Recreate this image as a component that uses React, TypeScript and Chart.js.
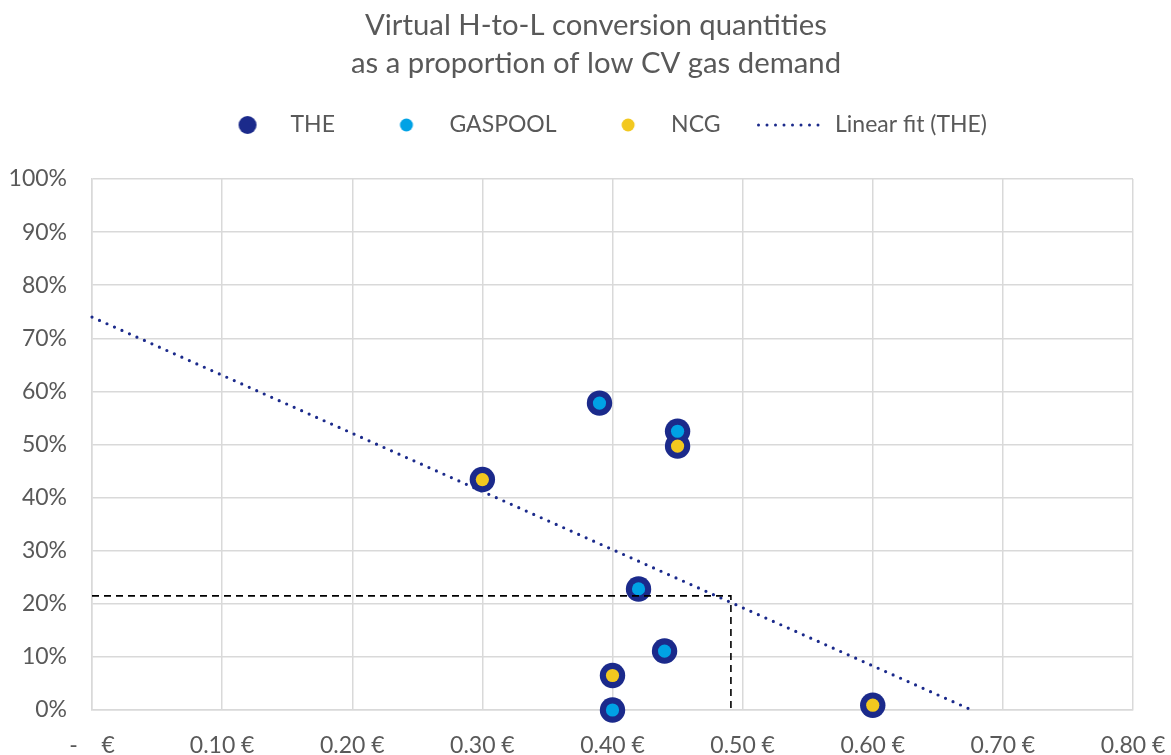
import React, { useEffect, useRef } from 'react';
import { Chart, registerables } from 'chart.js';

Chart.register(...registerables);

// ---- Data ----
const seriesNames = ['THE', 'GASPOOL', 'NCG', 'Linear fit (THE)'];
const theX = [0.30, 0.39, 0.40, 0.40, 0.42, 0.44, 0.45, 0.45, 0.60];
const theY = [43.4, 57.8, 6.5, 0.0, 22.8, 11.1, 52.5, 49.7, 0.9];
const gaspoolX = [0.39, 0.40, 0.42, 0.44, 0.45];
const gaspoolY = [57.8, 0.0, 22.8, 11.1, 52.5];
const ncgX = [0.30, 0.40, 0.45, 0.60];
const ncgY = [43.4, 6.5, 49.7, 0.9];
const fitX = [0.0, 0.676];
const fitY = [74.0, 0.0];
const refX = [0.0, 0.491, 0.491];
const refY = [21.5, 21.5, 0.0];
const xTickLabels = ['-    €', '0.10 €', '0.20 €', '0.30 €', '0.40 €', '0.50 €', '0.60 €', '0.70 €', '0.80 €'];
const yTickLabels = ['0%', '10%', '20%', '30%', '40%', '50%', '60%', '70%', '80%', '90%', '100%'];
const titleLines = ['Virtual H-to-L conversion quantities', 'as a proportion of low CV gas demand'];

// ---- Style ----
const NAVY = '#1b2a8b';
const LIGHTBLUE = '#00a2e5';
const YELLOW = '#f2c81f';
const TEXT = '#595959';
const GRID = '#d9d9d9';
const FONT = "Lato, 'Open Sans', sans-serif";

const zip = (xs: number[], ys: number[]) => xs.map((x, i) => ({ x, y: ys[i] }));

function makeSymbol(kind: 'dot' | 'line', color: string, r: number): HTMLCanvasElement {
  const c = document.createElement('canvas');
  c.width = 70;
  c.height = 24;
  const ctx = c.getContext('2d')!;
  if (kind === 'dot') {
    ctx.fillStyle = color;
    ctx.beginPath();
    ctx.arc(35, 12, r, 0, Math.PI * 2);
    ctx.fill();
  } else {
    ctx.strokeStyle = color;
    ctx.lineWidth = 3;
    ctx.lineCap = 'round';
    ctx.setLineDash([0, 8.5]);
    ctx.beginPath();
    ctx.moveTo(1.5, 12);
    ctx.lineTo(69.5, 12);
    ctx.stroke();
  }
  return c;
}

// Adds space below the legend and nudges the title / legend horizontally
const layoutTweaks = {
  id: 'layoutTweaks',
  beforeLayout(chart: any) {
    const lg: any = chart.legend;
    if (lg && !lg.__gapPatched) {
      const orig = lg.fit.bind(lg);
      lg.fit = function () {
        orig();
        this.height += 32.5;
      };
      lg.__gapPatched = true;
    }
  },
  afterLayout(chart: any) {
    const t = chart.titleBlock;
    if (t) {
      t.left += 29.5;
      t.right += 29.5;
    }
    const l = chart.legend;
    if (l) {
      l.left += 35;
      l.right += 35;
    }
  },
};

export default function App() {
  const ref = useRef<HTMLCanvasElement | null>(null);

  useEffect(() => {
    if (!ref.current) return;
    const symbols = [
      makeSymbol('dot', NAVY, 9),
      makeSymbol('dot', LIGHTBLUE, 6.5),
      makeSymbol('dot', YELLOW, 6.5),
      makeSymbol('line', NAVY, 0),
    ];

    const chart = new Chart(ref.current, {
      type: 'scatter',
      data: {
        datasets: [
          {
            label: seriesNames[0],
            data: zip(theX, theY),
            backgroundColor: NAVY,
            borderColor: NAVY,
            pointRadius: 12.7,
            pointHoverRadius: 12.7,
            pointBorderWidth: 0,
            order: 3,
            clip: false,
          },
          {
            label: seriesNames[1],
            data: zip(gaspoolX, gaspoolY),
            backgroundColor: LIGHTBLUE,
            borderColor: LIGHTBLUE,
            pointRadius: 6.6,
            pointHoverRadius: 6.6,
            pointBorderWidth: 0,
            order: 1,
            clip: false,
          },
          {
            label: seriesNames[2],
            data: zip(ncgX, ncgY),
            backgroundColor: YELLOW,
            borderColor: YELLOW,
            pointRadius: 6.6,
            pointHoverRadius: 6.6,
            pointBorderWidth: 0,
            order: 1,
            clip: false,
          },
          {
            label: seriesNames[3],
            data: zip(fitX, fitY),
            showLine: true,
            borderColor: NAVY,
            backgroundColor: NAVY,
            borderWidth: 3.2,
            borderDash: [0, 8.2],
            borderCapStyle: 'round',
            pointRadius: 0,
            pointHoverRadius: 0,
            order: 4,
            clip: false,
          },
          {
            label: 'reference',
            data: zip(refX, refY),
            showLine: true,
            borderColor: '#000000',
            backgroundColor: '#000000',
            borderWidth: 1.6,
            borderDash: [7, 5],
            pointRadius: 0,
            pointHoverRadius: 0,
            order: 0,
            clip: false,
          },
        ],
      },
      options: {
        animation: false,
        responsive: false,
        events: [],
        layout: { padding: { left: 0, right: 38, top: 0, bottom: 0 } },
        plugins: {
          tooltip: { enabled: false },
          title: {
            display: true,
            text: titleLines,
            color: TEXT,
            font: { family: FONT, size: 29.3, weight: 'normal', lineHeight: '38px' },
            padding: { top: 7, bottom: -9.5 },
          },
          legend: {
            display: true,
            position: 'top',
            labels: {
              usePointStyle: true,
              pointStyleWidth: 63,
              padding: 40,
              color: TEXT,
              font: { family: FONT, size: 23 },
              sort: (a: any, b: any) => a.datasetIndex - b.datasetIndex,
              generateLabels: (c: any) => {
                const items = (Chart.defaults.plugins.legend.labels as any).generateLabels(c);
                return items
                  .filter((it: any) => it.datasetIndex < 4)
                  .map((it: any) => ({ ...it, pointStyle: symbols[it.datasetIndex], lineWidth: 0 }));
              },
            },
          },
        },
        scales: {
          x: {
            type: 'linear',
            min: 0,
            max: 0.8,
            afterFit: (s: any) => {
              s.height = 45;
            },
            grid: { color: GRID, lineWidth: 1.5, drawTicks: true, tickLength: 22, tickColor: 'rgba(0,0,0,0)' },
            border: { color: GRID, width: 1.5 },
            ticks: {
              stepSize: 0.1,
              autoSkip: false,
              maxRotation: 0,
              minRotation: 0,
              padding: 0,
              color: TEXT,
              font: { family: FONT, size: 23 },
              callback: (_v: any, i: number) => xTickLabels[i],
            },
          },
          y: {
            type: 'linear',
            min: 0,
            max: 100,
            afterFit: (s: any) => {
              s.width = 92;
            },
            grid: { color: GRID, lineWidth: 1.5, drawTicks: false },
            border: { color: GRID, width: 1.5 },
            ticks: {
              stepSize: 10,
              padding: 25,
              color: TEXT,
              font: { family: FONT, size: 23 },
              callback: (_v: any, i: number) => yTickLabels[i],
            },
          },
        },
      },
      plugins: [layoutTweaks],
    } as any);

    return () => chart.destroy();
  }, []);

  return (
    <div style={{ position: 'fixed', left: 0, top: 0, width: 1171, height: 755, background: '#fff' }}>
      <canvas ref={ref} width={1171} height={755} style={{ display: 'block' }} />
    </div>
  );
}
